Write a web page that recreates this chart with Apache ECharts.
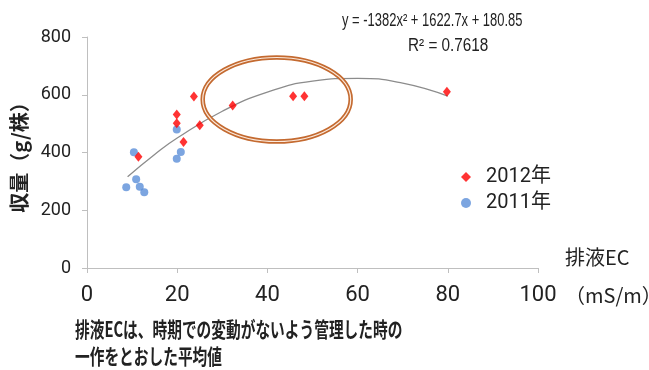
<!DOCTYPE html>
<html>
<head>
<meta charset="utf-8">
<script src="https://cdn.jsdelivr.net/npm/echarts@6/dist/echarts.min.js"></script>
<style>
  html, body { margin: 0; padding: 0; background: #fff; }
  #chart { width: 649px; height: 370px; }
</style>
</head>
<body>
<div id="chart"></div>
<script>
// 2012 points (排液EC, 収量)
const ec2012 = [11.4, 19.9, 19.9, 21.4, 23.7, 25.0, 32.3, 45.7, 48.2, 79.8]
const yield2012 = [385, 532, 501, 436, 594, 494, 563, 595, 595, 610]

// 2011 points
const ec2011 = [8.7, 10.4, 10.9, 11.7, 12.7, 19.9, 19.9, 20.8]
const yield2011 = [280, 401, 307, 281, 262, 480, 378, 402]

// trend curve
const trendX = [9, 15, 20, 30, 40, 50, 60, 70, 80]
const trendY = [316, 393, 450, 543, 609, 647, 657, 640, 595]

const xTicks = [0, 20, 40, 60, 80, 100]
const yTicks = [0, 200, 400, 600, 800]

const seriesNames = ['2012年', '2011年']
const equationText = 'y = -1382x² + 1622.7x + 180.85'
const r2Text = 'R² = 0.7618'
const captionText = '排液ECは、時期での変動がないよう管理した時の\n一作をとおした平均値'

function zip(a, b) {
  let out = []
  for (let i = 0; i < a.length; i++) out.push([a[i], b[i]])
  return out
}

const numFont = 'Roboto'
const jpFont = 'Noto Sans CJK JP'

let myChart = echarts.init(document.getElementById('chart'), null, { renderer: 'canvas' })

let option = {
  animation: false,
  grid: { left: 87, right: 111, top: 37, bottom: 102, containLabel: false, outerBoundsMode: 'none' },
  legend: {
    data: [
      { name: seriesNames[0], icon: 'diamond' },
      { name: seriesNames[1], icon: 'circle' }
    ],
    orient: 'vertical',
    left: 456,
    top: 162,
    itemWidth: 10,
    itemHeight: 10,
    itemGap: 6,
    formatter: name => '  ' + name,
    textStyle: { fontFamily: numFont + ', ' + jpFont, fontSize: 20, lineHeight: 20, color: '#222' }
  },
  xAxis: {
    type: 'value',
    min: xTicks[0],
    max: xTicks[xTicks.length - 1],
    interval: 20,
    name: '{a|排液EC}\n{b|（mS/m）}',
    nameLocation: 'end',
    nameGap: 27,
    nameMoveOverlap: false,
    nameTextStyle: {
      align: 'left',
      rich: {
        a: { fontFamily: jpFont, fontSize: 20, lineHeight: 54, color: '#222' },
        b: { fontFamily: jpFont, fontSize: 20, lineHeight: 22, color: '#222' }
      }
    },
    axisLine: { lineStyle: { color: '#bfbfbf', width: 1 } },
    axisTick: { show: true, length: 5, lineStyle: { color: '#bfbfbf' } },
    axisLabel: { fontFamily: numFont, fontSize: 22, color: '#222', margin: 16 },
    splitLine: { show: false }
  },
  yAxis: {
    type: 'value',
    min: yTicks[0],
    max: yTicks[yTicks.length - 1],
    interval: 200,
    name: '収量（g/株）',
    nameLocation: 'middle',
    nameGap: 58,
    nameMoveOverlap: false,
    nameTextStyle: { fontFamily: jpFont, fontSize: 20, fontWeight: 'bold', color: '#222' },
    axisLine: { show: true, lineStyle: { color: '#bfbfbf', width: 1 } },
    axisTick: { show: true, length: 5, lineStyle: { color: '#bfbfbf' } },
    axisLabel: { fontFamily: numFont, fontSize: 18, color: '#222', margin: 16 },
    splitLine: { show: false }
  },
  series: [
    {
      name: 'trend',
      type: 'line',
      data: zip(trendX, trendY),
      smooth: true,
      showSymbol: false,
      silent: true,
      lineStyle: { color: '#8c8c8c', width: 1.3 },
      z: 1
    },
    {
      name: seriesNames[0],
      type: 'scatter',
      data: zip(ec2012, yield2012),
      symbol: 'diamond',
      symbolSize: [8, 10],
      itemStyle: { color: '#ff0000' },
      z: 3
    },
    {
      name: seriesNames[1],
      type: 'scatter',
      data: zip(ec2011, yield2011),
      symbol: 'circle',
      symbolSize: 8,
      itemStyle: { color: '#5b8fd8' },
      z: 2
    }
  ],
  graphic: [
    // highlight ring
    { type: 'ellipse', shape: { cx: 276.7, cy: 99.5, rx: 74, ry: 42 }, style: { fill: null, stroke: '#c46a30', lineWidth: 4.5 }, z: 10 },
    { type: 'ellipse', shape: { cx: 276.7, cy: 99.5, rx: 74, ry: 42 }, style: { fill: null, stroke: '#fbe9dc', lineWidth: 1.2 }, z: 11 },
    { type: 'text', x: 342, y: 21, scaleX: 0.72, style: { text: equationText, fontFamily: 'Liberation Sans', fontSize: 18, fill: '#222', verticalAlign: 'middle' } },
    { type: 'text', x: 408, y: 46, scaleX: 0.85, style: { text: r2Text, fontFamily: 'Liberation Sans', fontSize: 18, fill: '#222', verticalAlign: 'middle' } },
    { type: 'text', x: 75, y: 316, scaleX: 0.7, style: { text: captionText, fontFamily: jpFont, fontSize: 21, fontWeight: 'bold', lineHeight: 27, fill: '#222' } }
  ]
}

myChart.setOption(option)
</script>
</body>
</html>
